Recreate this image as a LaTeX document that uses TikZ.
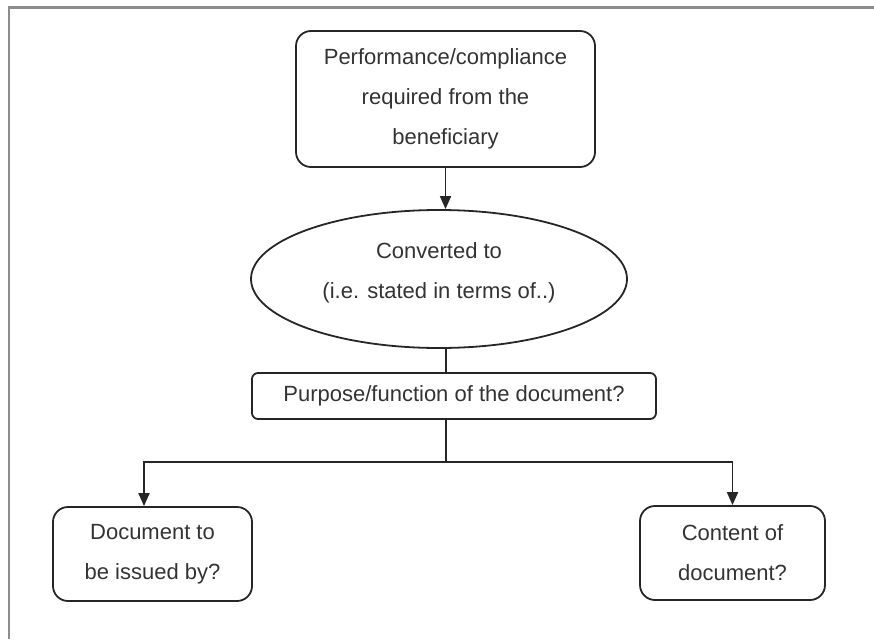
\documentclass[tikz,border=0pt]{standalone}
\usepackage{fontspec}
\setmainfont{Liberation Sans}
\usetikzlibrary{shapes.geometric,arrows.meta}
\begin{document}
\begin{tikzpicture}[x=1pt,y=-1pt,
  txt/.style={align=center, text=black!80, font=\fontsize{22}{40}\selectfont},
  box/.style={txt, draw=black!85, line width=1.8pt, rounded corners=15pt, inner sep=0pt},
  link/.style={draw=black!85, line width=1.8pt},
  arr/.style={link, -{Triangle[length=13pt,width=11pt]}}]
\useasboundingbox (0,0) rectangle (874,639);
% frame edges (top and left only)
\draw[black!45, line width=3pt] (8,7.5) -- (874,7.5);
\draw[black!45, line width=2pt] (8.5,6) -- (8.5,639);

% nodes
\node[box, minimum width=299pt, minimum height=136pt] (req) at (445.5,99)
  {Performance/compliance\\required from the\\beneficiary};
\node[ellipse, draw=black!85, line width=1.8pt, minimum width=376pt,
  minimum height=138pt, inner sep=0pt] (conv) at (439,279) {};
\node[txt] (convtext) at ([yshift=6pt]conv.center)
  {Converted to\\(i.e. stated in terms of..)};
\node[box, rounded corners=6pt, minimum width=404pt, minimum height=46pt] (purp)
  at (454,396) {Purpose/function of the document?};
\node[box, minimum width=199pt, minimum height=94pt] (issuer) at (152.5,554)
  {Document to\\be issued by?};
\node[box, minimum width=185pt, minimum height=94pt] (content) at (732.5,553)
  {Content of\\document?};

% connectors
\coordinate (split) at (446,462);
\draw[arr] (req.south) -- (req.south |- conv.north);
\draw[link] (conv.south -| split) -- (purp.north -| split);
\draw[link] (purp.south -| split) -- (split);
\draw[arr] (split) -| ([xshift=-8.5pt]issuer.north);
\draw[arr] (split) -| (content.north);
\end{tikzpicture}
\end{document}
